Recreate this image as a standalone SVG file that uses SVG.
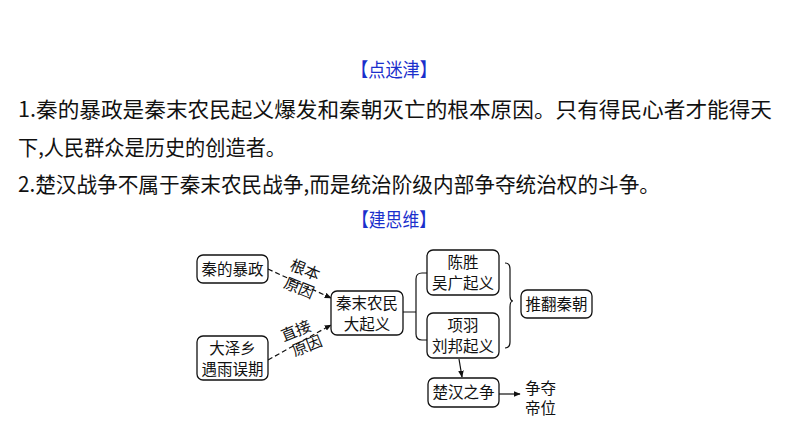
<svg xmlns="http://www.w3.org/2000/svg" width="794" height="446" viewBox="0 0 794 446">
<style>
.t{font-family:"Noto Sans CJK SC","Noto Sans",sans-serif;font-size:21px;fill:#111}
.h{font-family:"Noto Sans CJK SC","Noto Sans",sans-serif;font-size:19px;fill:#1a2fcc;text-anchor:middle}
.d{font-family:"Noto Sans CJK SC",sans-serif;font-size:15.5px;fill:#111;text-anchor:middle}
.box{fill:#fff;stroke:#111;stroke-width:1.3}
.ln{fill:none;stroke:#111;stroke-width:1.2}
.dash{fill:none;stroke:#111;stroke-width:1.2;stroke-dasharray:5 3}
</style>
<defs>
<marker id="ar" viewBox="0 0 10 10" refX="9" refY="5" markerWidth="7" markerHeight="7" orient="auto" markerUnits="userSpaceOnUse">
<path d="M0,1 L10,5 L0,9 z" fill="#111"/>
</marker>
</defs>
<rect width="794" height="446" fill="#fff"/>
<text class="h" x="394" y="77" textLength="86" lengthAdjust="spacingAndGlyphs">【点迷津】</text>
<text class="t" x="18" y="117" textLength="754" lengthAdjust="spacingAndGlyphs">1.秦的暴政是秦末农民起义爆发和秦朝灭亡的根本原因。只有得民心者才能得天</text>
<text class="t" x="18" y="155" textLength="268" lengthAdjust="spacingAndGlyphs">下,人民群众是历史的创造者。</text>
<text class="t" x="18" y="192" textLength="642" lengthAdjust="spacingAndGlyphs">2.楚汉战争不属于秦末农民战争,而是统治阶级内部争夺统治权的斗争。</text>
<text class="h" x="394" y="227" textLength="84" lengthAdjust="spacingAndGlyphs">【建思维】</text>

<g id="connectors">
<path class="dash" d="M268,269 L331,298" marker-end="url(#ar)"/>
<path class="dash" d="M268,360 L331,325" marker-end="url(#ar)"/>
<path class="ln" d="M403,312 L416,312 M427,273 L422,273 Q416,273 416,279 L416,334 Q416,340 422,340 L427,340"/>
<path class="ln" d="M505,263 Q510,263 510,269 L510,295 Q510,301 513,301 Q510,301 510,307 L510,342 Q510,348 505,348"/>
<path class="ln" d="M459,359 L462,377" marker-end="url(#ar)"/>
<path class="ln" d="M499,394 L520,394" marker-end="url(#ar)"/>
<text class="d" transform="translate(303,275) rotate(22)">根本</text>
<text class="d" transform="translate(297,293) rotate(22)">原因</text>
<text class="d" transform="translate(298,336) rotate(-22)">直接</text>
<text class="d" transform="translate(309,351) rotate(-22)">原因</text>
</g>

<g id="n1"><rect class="box" x="197" y="255" width="71" height="28" rx="6"/><text class="d" x="232.5" y="275">秦的暴政</text></g>
<g id="n2"><rect class="box" x="197" y="336" width="71" height="44" rx="6"/><text class="d" x="232.5" y="354">大泽乡</text><text class="d" x="232.5" y="375">遇雨误期</text></g>
<g id="n3"><rect class="box" x="331" y="291" width="72" height="44" rx="6"/><text class="d" x="367" y="309">秦末农民</text><text class="d" x="367" y="330">大起义</text></g>
<g id="n4"><rect class="box" x="427" y="250" width="72" height="45" rx="6"/><text class="d" x="463" y="268">陈胜</text><text class="d" x="463" y="289">吴广起义</text></g>
<g id="n5"><rect class="box" x="427" y="313" width="72" height="45" rx="6"/><text class="d" x="463" y="331">项羽</text><text class="d" x="463" y="352">刘邦起义</text></g>
<g id="n6"><rect class="box" x="521" y="290" width="71" height="28" rx="6"/><text class="d" x="556.5" y="310">推翻秦朝</text></g>
<g id="n7"><rect class="box" x="428" y="378" width="71" height="29" rx="6"/><text class="d" x="463.5" y="398">楚汉之争</text></g>
<g id="n8"><text class="d" x="540.5" y="394">争夺</text><text class="d" x="540.5" y="414">帝位</text></g>
</svg>
